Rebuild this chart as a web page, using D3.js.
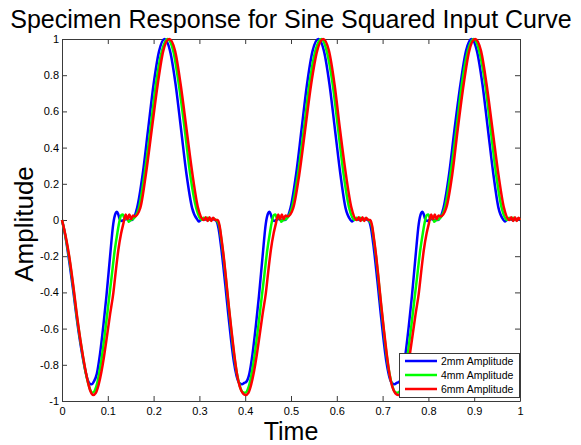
<!DOCTYPE html>
<html><head><meta charset="utf-8">
<script src="https://cdn.jsdelivr.net/npm/d3@7"></script>
<style>body{margin:0;background:#fff;} svg{display:block;font-family:"Liberation Sans",Arial,sans-serif;}</style>
</head><body><svg id="chart" width="581" height="445"></svg>
<script>
const chartTitle = "Specimen Response for Sine Squared Input Curve";
const xLabel = "Time";
const yLabel = "Amplitude";
const xTicks = [0, 0.1, 0.2, 0.3, 0.4, 0.5, 0.6, 0.7, 0.8, 0.9, 1];
const xTickLabels = ["0","0.1","0.2","0.3","0.4","0.5","0.6","0.7","0.8","0.9","1"];
const yTicks = [-1, -0.8, -0.6, -0.4, -0.2, 0, 0.2, 0.4, 0.6, 0.8, 1];
const yTickLabels = ["-1","-0.8","-0.6","-0.4","-0.2","0","0.2","0.4","0.6","0.8","1"];
const seriesNames = ["2mm Amplitude", "4mm Amplitude", "6mm Amplitude"];
const seriesColors = ["#0000ff", "#00ff00", "#ff0000"];

// [time, amplitude]
const data2mm = [
[0.000,0.000],[0.008,-0.100],[0.017,-0.250],[0.025,-0.400],[0.032,-0.540],[0.040,-0.680],[0.046,-0.770],[0.052,-0.845],[0.057,-0.890],[0.061,-0.905],[0.065,-0.908],[0.069,-0.895],[0.076,-0.850],[0.083,-0.740],[0.090,-0.590],[0.097,-0.420],[0.105,-0.200],[0.112,-0.020],[0.117,0.037],[0.120,0.046],[0.123,0.030],[0.126,0.005],[0.130,-0.005],[0.135,0.000],[0.140,0.005],[0.146,0.000],[0.152,0.000],
[0.164,0.067],[0.176,0.250],[0.188,0.500],[0.200,0.750],[0.212,0.933],[0.224,1.000],[0.236,0.933],[0.248,0.750],[0.260,0.500],[0.272,0.250],[0.284,0.067],[0.296,0.000],
[0.299,-0.008],[0.303,0.000],[0.310,0.005],[0.318,0.000],[0.326,0.005],[0.334,0.000],
[0.338,-0.010],[0.342,-0.050],[0.347,-0.140],[0.352,-0.250],[0.357,-0.370],[0.363,-0.520],[0.369,-0.660],[0.375,-0.780],[0.381,-0.860],[0.387,-0.900],[0.393,-0.908],[0.398,-0.900],
[0.402,-0.895],[0.409,-0.850],[0.416,-0.740],[0.423,-0.590],[0.430,-0.420],[0.438,-0.200],[0.445,-0.020],[0.450,0.037],[0.453,0.046],[0.456,0.030],[0.459,0.005],[0.463,-0.005],[0.468,0.000],[0.473,0.005],[0.479,0.000],[0.486,0.000],
[0.499,0.067],[0.511,0.250],[0.523,0.500],[0.535,0.750],[0.547,0.933],[0.560,1.000],[0.572,0.933],[0.584,0.750],[0.596,0.500],[0.608,0.250],[0.619,0.067],[0.630,0.000],
[0.633,-0.008],[0.637,0.000],[0.643,0.005],[0.651,0.000],[0.659,0.005],[0.667,0.000],
[0.671,-0.010],[0.675,-0.050],[0.680,-0.140],[0.685,-0.250],[0.690,-0.370],[0.696,-0.520],[0.702,-0.660],[0.708,-0.780],[0.714,-0.860],[0.720,-0.900],[0.726,-0.908],[0.731,-0.900],
[0.736,-0.895],[0.743,-0.850],[0.750,-0.740],[0.757,-0.590],[0.764,-0.420],[0.772,-0.200],[0.779,-0.020],[0.784,0.037],[0.787,0.046],[0.790,0.030],[0.793,0.005],[0.797,-0.005],[0.802,0.000],[0.807,0.005],[0.813,0.000],[0.820,0.000],
[0.833,0.067],[0.845,0.250],[0.857,0.500],[0.870,0.750],[0.882,0.933],[0.894,1.000],[0.906,0.933],[0.918,0.750],[0.930,0.500],[0.942,0.250],[0.953,0.067],[0.964,0.000],
[0.967,-0.008],[0.971,0.000],[0.977,0.005],[0.985,0.000],[0.993,0.005],[1.000,0.000]
];

const data4mm = [
[0.000,0.000],[0.008,-0.095],[0.017,-0.230],[0.025,-0.380],[0.032,-0.525],[0.040,-0.665],[0.046,-0.760],[0.052,-0.845],[0.057,-0.900],[0.062,-0.940],[0.066,-0.955],[0.071,-0.945],[0.077,-0.900],[0.083,-0.820],[0.089,-0.720],[0.095,-0.600],[0.102,-0.450],[0.109,-0.300],[0.115,-0.170],[0.121,-0.070],[0.126,0.000],[0.129,0.025],[0.133,0.030],[0.137,0.005],[0.141,0.020],[0.146,-0.010],[0.150,0.000],[0.155,0.005],
[0.168,0.067],[0.180,0.250],[0.193,0.500],[0.205,0.750],[0.218,0.933],[0.230,1.000],[0.243,0.933],[0.255,0.750],[0.268,0.500],[0.280,0.250],[0.293,0.067],[0.305,0.000],
[0.309,0.012],[0.314,0.004],[0.318,0.012],[0.324,0.000],[0.330,0.008],[0.336,0.000],
[0.340,-0.010],[0.344,-0.040],[0.348,-0.110],[0.353,-0.210],[0.358,-0.330],[0.364,-0.480],[0.370,-0.620],[0.376,-0.750],[0.382,-0.850],[0.388,-0.915],[0.394,-0.950],[0.399,-0.955],
[0.404,-0.945],[0.410,-0.900],[0.416,-0.820],[0.422,-0.720],[0.428,-0.600],[0.435,-0.450],[0.442,-0.300],[0.448,-0.170],[0.454,-0.070],[0.459,0.000],[0.462,0.025],[0.466,0.030],[0.470,0.005],[0.474,0.020],[0.479,-0.010],[0.483,0.000],[0.489,0.005],
[0.502,0.067],[0.515,0.250],[0.528,0.500],[0.540,0.750],[0.553,0.933],[0.566,1.000],[0.578,0.933],[0.591,0.750],[0.603,0.500],[0.615,0.250],[0.627,0.067],[0.639,0.000],
[0.643,0.012],[0.647,0.004],[0.651,0.012],[0.657,0.000],[0.663,0.008],[0.669,0.000],
[0.673,-0.010],[0.677,-0.040],[0.681,-0.110],[0.686,-0.210],[0.691,-0.330],[0.697,-0.480],[0.703,-0.620],[0.709,-0.750],[0.715,-0.850],[0.721,-0.915],[0.727,-0.950],[0.732,-0.955],
[0.738,-0.945],[0.744,-0.900],[0.750,-0.820],[0.756,-0.720],[0.762,-0.600],[0.769,-0.450],[0.776,-0.300],[0.782,-0.170],[0.788,-0.070],[0.793,0.000],[0.796,0.025],[0.800,0.030],[0.804,0.005],[0.808,0.020],[0.813,-0.010],[0.817,0.000],[0.823,0.005],
[0.836,0.067],[0.848,0.250],[0.861,0.500],[0.873,0.750],[0.886,0.933],[0.899,1.000],[0.911,0.933],[0.924,0.750],[0.936,0.500],[0.948,0.250],[0.960,0.067],[0.972,0.000],
[0.976,0.012],[0.981,0.004],[0.985,0.012],[0.991,0.000],[0.997,0.008],[1.000,0.000]
];

const data6mm = [
[0.000,0.000],[0.008,-0.090],[0.017,-0.220],[0.025,-0.370],[0.032,-0.515],[0.040,-0.660],[0.046,-0.755],[0.052,-0.840],[0.057,-0.900],[0.062,-0.945],[0.068,-0.967],[0.074,-0.955],[0.080,-0.910],[0.086,-0.840],[0.092,-0.750],[0.097,-0.663],[0.105,-0.520],[0.112,-0.405],[0.118,-0.270],[0.123,-0.166],[0.129,-0.075],[0.134,-0.020],[0.139,0.030],[0.143,0.005],[0.147,0.030],[0.151,0.005],[0.155,0.025],[0.159,0.020],
[0.171,0.067],[0.183,0.250],[0.196,0.500],[0.209,0.750],[0.221,0.933],[0.234,1.000],[0.247,0.933],[0.259,0.750],[0.272,0.500],[0.285,0.250],[0.297,0.067],[0.310,0.000],
[0.314,0.015],[0.318,-0.005],[0.322,0.015],[0.326,-0.005],[0.330,0.012],[0.335,0.000],[0.340,0.000],
[0.344,-0.030],[0.348,-0.100],[0.353,-0.200],[0.358,-0.320],[0.364,-0.470],[0.370,-0.610],[0.376,-0.740],[0.382,-0.850],[0.388,-0.920],[0.395,-0.958],[0.401,-0.967],
[0.407,-0.955],[0.413,-0.910],[0.419,-0.840],[0.425,-0.750],[0.430,-0.663],[0.438,-0.520],[0.445,-0.405],[0.451,-0.270],[0.456,-0.166],[0.462,-0.075],[0.467,-0.020],[0.472,0.030],[0.476,0.005],[0.480,0.030],[0.484,0.005],[0.488,0.025],[0.493,0.020],
[0.505,0.067],[0.518,0.250],[0.531,0.500],[0.544,0.750],[0.557,0.933],[0.570,1.000],[0.583,0.933],[0.595,0.750],[0.607,0.500],[0.620,0.250],[0.632,0.067],[0.644,0.000],
[0.648,0.015],[0.652,-0.005],[0.656,0.015],[0.660,-0.005],[0.664,0.012],[0.669,0.000],[0.673,0.000],
[0.677,-0.030],[0.681,-0.100],[0.686,-0.200],[0.691,-0.320],[0.697,-0.470],[0.703,-0.610],[0.709,-0.740],[0.715,-0.850],[0.721,-0.920],[0.728,-0.958],[0.734,-0.967],
[0.741,-0.955],[0.747,-0.910],[0.753,-0.840],[0.759,-0.750],[0.764,-0.663],[0.772,-0.520],[0.779,-0.405],[0.785,-0.270],[0.790,-0.166],[0.796,-0.075],[0.801,-0.020],[0.806,0.030],[0.810,0.005],[0.814,0.030],[0.818,0.005],[0.822,0.025],[0.827,0.020],
[0.839,0.067],[0.852,0.250],[0.864,0.500],[0.877,0.750],[0.889,0.933],[0.902,1.000],[0.915,0.933],[0.927,0.750],[0.940,0.500],[0.953,0.250],[0.965,0.067],[0.977,0.000],
[0.981,0.015],[0.985,-0.005],[0.989,0.015],[0.993,-0.005],[0.997,0.012],[1.000,0.000]
];

const seriesData = [data2mm, data4mm, data6mm];

const svg = d3.select("#chart");
const W = 581, H = 445;
svg.append("rect").attr("width", W).attr("height", H).attr("fill", "#fff");

const plot = {left: 62, right: 520, top: 39, bottom: 401};
const x = d3.scaleLinear().domain([0, 1]).range([plot.left, plot.right]);
const y = d3.scaleLinear().domain([-1, 1]).range([plot.bottom, plot.top]);

const axisColor = "#3a3a3a";
const tickLen = 5;

// Axes (MATLAB-style box with inner ticks)
const gB = svg.append("g").attr("transform", `translate(0,${plot.bottom})`)
  .call(d3.axisBottom(x).tickValues(xTicks).tickFormat((d, i) => xTickLabels[i]).tickSize(-tickLen).tickSizeOuter(0).tickPadding(6));
const gT = svg.append("g").attr("transform", `translate(0,${plot.top})`)
  .call(d3.axisTop(x).tickValues(xTicks).tickFormat("").tickSize(-tickLen).tickSizeOuter(0));
const gL = svg.append("g").attr("transform", `translate(${plot.left},0)`)
  .call(d3.axisLeft(y).tickValues(yTicks).tickFormat((d, i) => yTickLabels[i]).tickSize(-tickLen).tickSizeOuter(0).tickPadding(3));
const gR = svg.append("g").attr("transform", `translate(${plot.right},0)`)
  .call(d3.axisRight(y).tickValues(yTicks).tickFormat("").tickSize(-tickLen).tickSizeOuter(0));

[gB, gT, gL, gR].forEach(g => {
  g.selectAll("path.domain").attr("stroke", axisColor).attr("stroke-width", 1);
  g.selectAll(".tick line").attr("stroke", axisColor).attr("stroke-width", 1);
  g.selectAll(".tick text").attr("fill", "#000").attr("font-size", "11px").attr("font-family", '"Liberation Sans", Arial, sans-serif');
});

// Lines
const line = d3.line().x(d => x(d[0])).y(d => y(d[1])).curve(d3.curveMonotoneX);
seriesData.forEach((data, i) => {
  svg.append("path").datum(data)
    .attr("fill", "none")
    .attr("stroke", seriesColors[i])
    .attr("stroke-width", 2.5)
    .attr("stroke-linejoin", "round")
    .attr("d", line);
});

// Title and labels
svg.append("text").attr("x", 291).attr("y", 28).attr("text-anchor", "middle")
  .attr("font-size", "25px").attr("fill", "#000").text(chartTitle);
svg.append("text").attr("x", 291).attr("y", 440).attr("text-anchor", "middle")
  .attr("font-size", "25px").attr("fill", "#000").text(xLabel);
svg.append("text").attr("transform", "translate(33,224) rotate(-90)").attr("text-anchor", "middle")
  .attr("font-size", "26px").attr("fill", "#000").text(yLabel);

// Legend
const lg = svg.append("g");
lg.append("rect").attr("x", 399.5).attr("y", 353.5).attr("width", 120).attr("height", 44)
  .attr("fill", "#fff").attr("stroke", axisColor).attr("stroke-width", 1);
seriesNames.forEach((name, i) => {
  const yy = 361 + i * 14;
  lg.append("line").attr("x1", 405).attr("x2", 437).attr("y1", yy).attr("y2", yy)
    .attr("stroke", seriesColors[i]).attr("stroke-width", 2.5);
  lg.append("text").attr("x", 441).attr("y", yy).attr("dy", "0.35em")
    .attr("font-size", "10.5px").attr("fill", "#000").text(name);
});
</script>
</body></html>
